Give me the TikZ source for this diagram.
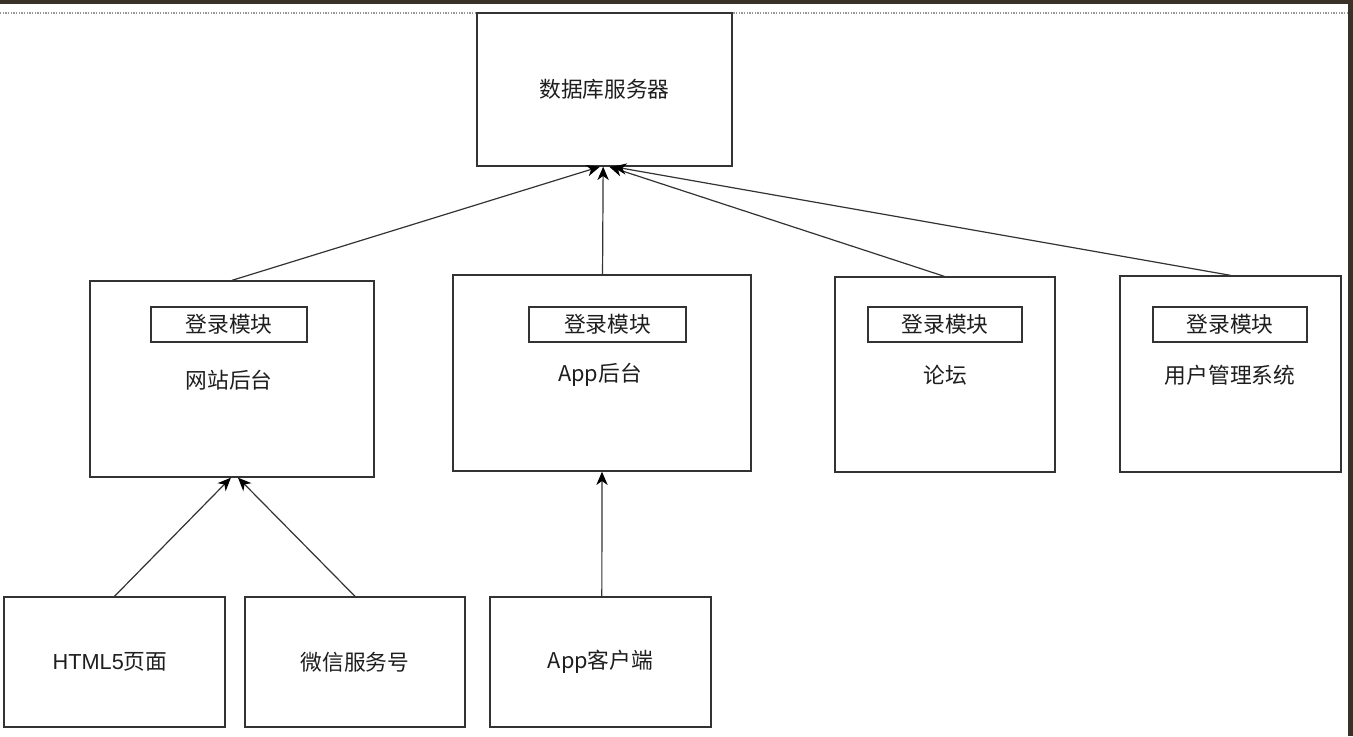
\documentclass[tikz,border=0pt]{standalone}
\usepackage{fontspec}
\setmainfont{Noto Sans CJK SC}
\newfontfamily\latinsans{Liberation Sans}
\usetikzlibrary{arrows.meta,calc}
\definecolor{framec}{HTML}{3A3228}
\definecolor{linec}{HTML}{333333}
\definecolor{textc}{HTML}{1E1E1E}
\begin{document}
\begin{tikzpicture}[x=0.75pt,y=-0.75pt,
  box/.style 2 args={draw=linec, line width=1pt, fill=white, minimum width=#1*0.75pt, minimum height=#2*0.75pt, inner sep=0pt, font=\fontsize{16.3pt}{19pt}\selectfont, text=textc},
  lbl/.style={font=\fontsize{16.3pt}{19pt}\selectfont, text=textc, inner sep=0pt},
  conn/.style={draw=linec, line width=0.9pt, -{Stealth[length=10pt,width=8.5pt,inset=3pt,black]}}]
\useasboundingbox (0,0) rectangle (1353,736);
\fill[white] (0,0) rectangle (1353,736);
% screenshot frame
\fill[framec] (0,0) rectangle (1353,3.5);
\fill[framec] (1347.5,0) rectangle (1353,736);
\draw[black!40, line width=0.8pt, dash pattern=on 1pt off 1pt] (0,13) -- (1347,13);
% nodes
\node[box={255}{153}] (db) at (604.5,89.5) {数据库服务器};
\node[box={284}{196}] (web) at (232,379) {};
\node[box={298}{196}] (appb) at (602,373) {};
\node[box={220}{195}] (forum) at (945,374.5) {};
\node[box={221}{196}] (user) at (1230.5,374) {};
\node[box={156}{35}] (l1) at (229,324.5) {登录模块};
\node[box={157}{35}] (l2) at (607.5,324.5) {登录模块};
\node[box={154}{35}] (l3) at (945,324.5) {登录模块};
\node[box={154}{35}] (l4) at (1230,324.5) {登录模块};
\node[lbl] (t1) at (229,380) {网站后台};
\node[lbl] (t2) at (600,375) {App后台};
\node[lbl] (t3) at (945,375) {论坛};
\node[lbl] (t4) at (1230,375) {用户管理系统};
\node[box={221}{130}] (html) at (114.5,662) {};
\node[lbl] (th) at (110,662) {{\latinsans HTML5}页面};
\node[box={220}{130}] (wx) at (355,662) {微信服务号};
\node[box={221}{130}] (appc) at (600.5,662) {App客户端};
% connectors
\draw[conn] (web.north) -- ([xshift=-3.4pt]db.south);
\draw[conn] ([xshift=0.4pt]appb.north) -- ([xshift=-1pt]db.south);
\draw[conn] ([xshift=-0.5pt]forum.north) -- ([xshift=3.5pt]db.south);
\draw[conn] (user.north) -- ([xshift=6.5pt]db.south);
\draw[conn] (html.north) -- ([xshift=-0.8pt]web.south);
\draw[conn] (wx.north) -- ([xshift=4.5pt]web.south);
\draw[conn] ([xshift=1pt]appc.north) -- ([xshift=0pt]appb.south);
\end{tikzpicture}
\end{document}
